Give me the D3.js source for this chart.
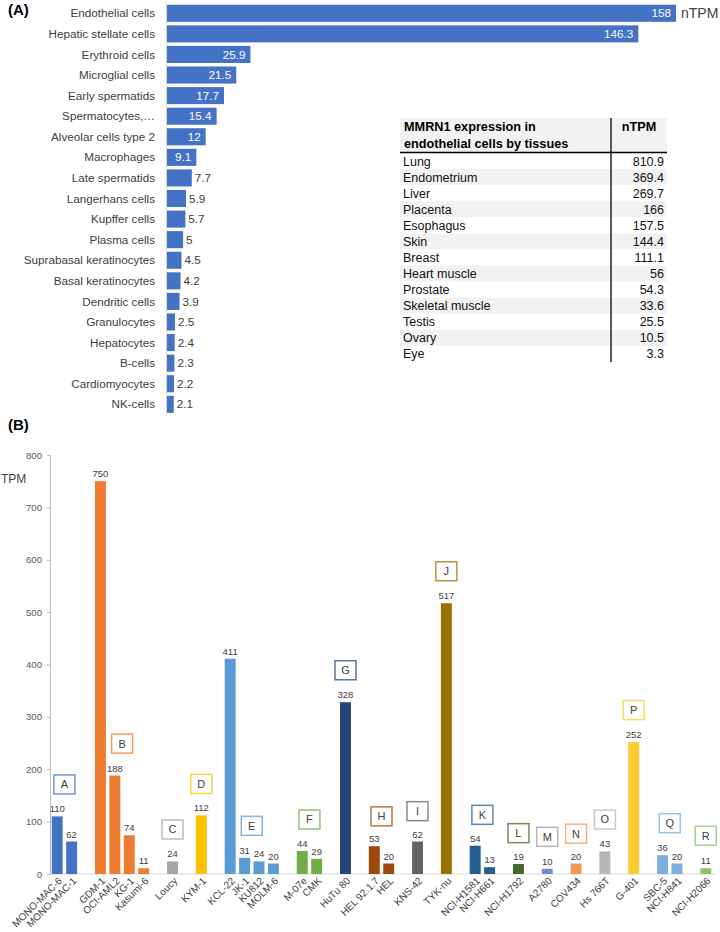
<!DOCTYPE html>
<html>
<head>
<meta charset="utf-8">
<script src="https://cdn.jsdelivr.net/npm/d3@7"></script>
<style>
  html, body { margin: 0; padding: 0; background: #fff; }
  svg { display: block; font-family: "Liberation Sans", Arial, sans-serif; }
</style>
</head>
<body>
<svg id="chart" width="720" height="932"></svg>
<script>
// ---------- Panel A data ----------
const cellTypes = ["Endothelial cells", "Hepatic stellate cells", "Erythroid cells", "Microglial cells",
  "Early spermatids", "Spermatocytes,\u2026", "Alveolar cells type 2", "Macrophages", "Late spermatids",
  "Langerhans cells", "Kupffer cells", "Plasma cells", "Suprabasal keratinocytes", "Basal keratinocytes",
  "Dendritic cells", "Granulocytes", "Hepatocytes", "B-cells", "Cardiomyocytes", "NK-cells"];
const cellTypeNTPM = [158, 146.3, 25.9, 21.5, 17.7, 15.4, 12, 9.1, 7.7, 5.9, 5.7, 5, 4.5, 4.2, 3.9, 2.5, 2.4, 2.3, 2.2, 2.1];

// ---------- Table data ----------
const tableHeader = ["MMRN1 expression in", "endothelial cells by tissues"];
const tableValueHeader = "nTPM";
const tissues = ["Lung", "Endometrium", "Liver", "Placenta", "Esophagus", "Skin", "Breast",
  "Heart muscle", "Prostate", "Skeletal muscle", "Testis", "Ovary", "Eye"];
const tissueNTPM = ["810.9", "369.4", "269.7", "166", "157.5", "144.4", "111.1", "56", "54.3", "33.6", "25.5", "10.5", "3.3"];

// ---------- Panel B data ----------
const cellLines = ["MONO-MAC-6", "MONO-MAC-1", "GDM-1", "OCI-AML2", "KG-1", "Kasumi-6", "Loucy", "KYM-1",
  "KCL-22", "JK-1", "KU812", "MOLM-6", "M-07e", "CMK", "HuTu 80", "HEL 92.1.7", "HEL", "KNS-42", "TYK-nu",
  "NCI-H1581", "NCI-H661", "NCI-H1792", "A2780", "COV434", "Hs 766T", "G-401", "SBC-5", "NCI-H841", "NCI-H2066"];
const cellLineTPM = [110, 62, 750, 188, 74, 11, 24, 112, 411, 31, 24, 20, 44, 29, 328, 53, 20, 62, 517,
  54, 13, 19, 10, 20, 43, 252, 36, 20, 11];
const cellLineGroup = ["A", "A", "B", "B", "B", "B", "C", "D", "E", "E", "E", "E", "F", "F", "G", "H", "H", "I", "J",
  "K", "K", "L", "M", "N", "O", "P", "Q", "Q", "R"];
const groupNames = ["A", "B", "C", "D", "E", "F", "G", "H", "I", "J", "K", "L", "M", "N", "O", "P", "Q", "R"];
// level (TPM) at which each group's letter tag sits
const groupTagTPM = [171, 249, 85, 172, 92, 104, 389, 110, 120, 578, 113, 78, 71, 77, 104, 313, 97, 73];
const yTicks = [0, 100, 200, 300, 400, 500, 600, 700, 800];

// ---------- styles ----------
const groupColor = {
  A: "#4472c4", B: "#ed7d31", C: "#a5a5a5", D: "#ffc000", E: "#5b9bd5", F: "#70ad47",
  G: "#264478", H: "#9e480e", I: "#636363", J: "#997300", K: "#255e91", L: "#43682b",
  M: "#698ed0", N: "#f1975a", O: "#b7b7b7", P: "#ffcd33", Q: "#7cafdd", R: "#8cc168"
};
const tagColor = Object.assign({}, groupColor, { M: "#a0a0a0" });
const textDark = "#404040";

const svg = d3.select("#chart");

// ================= Panel A =================
const gA = svg.append("g");
gA.append("text").attr("x", 8).attr("y", 15).attr("font-size", 15).attr("font-weight", "bold")
  .attr("fill", "#000").text("(A)");

const xA = d3.scaleLinear().domain([0, 158]).range([167, 676]);
const yA = d3.scaleBand().domain(cellTypes).range([3, 414.6]).paddingInner(0.17).paddingOuter(0.085);

gA.append("line").attr("x1", 166.5).attr("x2", 166.5).attr("y1", 2).attr("y2", 416)
  .attr("stroke", "#d9d9d9").attr("stroke-width", 1);

gA.selectAll("rect.a").data(cellTypes).join("rect")
  .attr("x", xA(0)).attr("y", d => yA(d))
  .attr("width", (d, i) => xA(cellTypeNTPM[i]) - xA(0))
  .attr("height", yA.bandwidth()).attr("fill", "#4472c4");

gA.selectAll("text.cat").data(cellTypes).join("text")
  .attr("x", 155).attr("y", d => yA(d) + yA.bandwidth() / 2).attr("dy", "0.35em")
  .attr("text-anchor", "end").attr("font-size", 11.7).attr("fill", textDark).text(d => d);

gA.selectAll("text.val").data(cellTypes).join("text")
  .attr("x", (d, i) => cellTypeNTPM[i] >= 9 ? xA(cellTypeNTPM[i]) - 5 : xA(cellTypeNTPM[i]) + 3)
  .attr("y", d => yA(d) + yA.bandwidth() / 2).attr("dy", "0.35em")
  .attr("text-anchor", (d, i) => cellTypeNTPM[i] >= 9 ? "end" : "start")
  .attr("font-size", 11.7)
  .attr("fill", (d, i) => cellTypeNTPM[i] >= 9 ? "#fff" : textDark)
  .text((d, i) => cellTypeNTPM[i]);

gA.append("text").attr("x", 681).attr("y", yA(cellTypes[0]) + yA.bandwidth() / 2).attr("dy", "0.35em")
  .attr("font-size", 14).attr("fill", textDark).text("nTPM");

// ================= Table =================
const gT = svg.append("g");
const tLeft = 400, tRight = 667, tSep = 611, tTop = 118, tHead = 152.5;
const yT = d3.scaleBand().domain(tissues).range([153, 362]);
gT.append("rect").attr("x", tLeft).attr("y", tTop).attr("width", tRight - tLeft).attr("height", tHead - tTop)
  .attr("fill", "#f2f2f2");
gT.selectAll("rect.row").data(tissues).join("rect")
  .attr("x", tLeft).attr("y", d => yT(d)).attr("width", tRight - tLeft).attr("height", yT.bandwidth())
  .attr("fill", (d, i) => i % 2 === 1 ? "#f2f2f2" : "#ffffff");
gT.selectAll("text.h").data(tableHeader).join("text")
  .attr("x", 404).attr("y", (d, i) => 131 + i * 16.5).attr("font-size", 12.7).attr("font-weight", "bold")
  .attr("fill", "#000").text(d => d);
gT.append("text").attr("x", 639).attr("y", 131).attr("text-anchor", "middle").attr("font-size", 12.7)
  .attr("font-weight", "bold").attr("fill", "#000").text(tableValueHeader);
gT.append("line").attr("x1", tLeft).attr("x2", tRight).attr("y1", tHead).attr("y2", tHead)
  .attr("stroke", "#000").attr("stroke-width", 1.5);
gT.append("line").attr("x1", tSep).attr("x2", tSep).attr("y1", tTop).attr("y2", 362)
  .attr("stroke", "#000").attr("stroke-width", 1.3);
gT.selectAll("text.tn").data(tissues).join("text")
  .attr("x", 403).attr("y", d => yT(d) + yT.bandwidth() / 2).attr("dy", "0.36em")
  .attr("font-size", 12.5).attr("fill", "#111").text(d => d);
gT.selectAll("text.tv").data(tissues).join("text")
  .attr("x", 664).attr("y", d => yT(d) + yT.bandwidth() / 2).attr("dy", "0.36em")
  .attr("text-anchor", "end").attr("font-size", 12.5).attr("fill", "#111").text((d, i) => tissueNTPM[i]);

// ================= Panel B =================
const gB = svg.append("g");
gB.append("text").attr("x", 8).attr("y", 430).attr("font-size", 15).attr("font-weight", "bold")
  .attr("fill", "#000").text("(B)");

// slots: bars with a single empty slot between consecutive groups
const slots = [];
cellLines.forEach((c, i) => {
  if (i > 0 && cellLineGroup[i] !== cellLineGroup[i - 1]) slots.push("gap" + i);
  slots.push(c);
});
const xB = d3.scaleBand().domain(slots).range([50, 713]).paddingInner(0.24).paddingOuter(0.12);
const yB = d3.scaleLinear().domain([0, 800]).range([874, 455]);

// y axis
const yAxis = d3.axisLeft(yB).tickValues(yTicks).tickSize(3).tickPadding(5);
const ya = gB.append("g").attr("transform", "translate(50,0)").call(yAxis);
ya.select(".domain").attr("stroke", "#bfbfbf");
ya.selectAll(".tick line").attr("stroke", "#bfbfbf");
ya.selectAll(".tick text").attr("font-size", 9.6).attr("fill", "#595959")
  .attr("font-family", "Liberation Sans, Arial, sans-serif");

// x baseline
gB.append("line").attr("x1", 50).attr("x2", 716).attr("y1", yB(0)).attr("y2", yB(0))
  .attr("stroke", "#d9d9d9");

gB.append("text").attr("x", 1).attr("y", 483).attr("font-size", 12).attr("fill", textDark).text("TPM");

gB.selectAll("rect.b").data(cellLines).join("rect")
  .attr("x", d => xB(d)).attr("y", (d, i) => yB(cellLineTPM[i]))
  .attr("width", xB.bandwidth()).attr("height", (d, i) => yB(0) - yB(cellLineTPM[i]))
  .attr("fill", (d, i) => groupColor[cellLineGroup[i]]);

gB.selectAll("text.bv").data(cellLines).join("text")
  .attr("x", d => xB(d) + xB.bandwidth() / 2).attr("y", (d, i) => yB(cellLineTPM[i]) - 4)
  .attr("text-anchor", "middle").attr("font-size", 9.5).attr("fill", textDark)
  .text((d, i) => cellLineTPM[i]);

gB.selectAll("text.bx").data(cellLines).join("text")
  .attr("transform", d => `translate(${xB(d) + xB.bandwidth() / 2 + 3},${yB(0) + 5}) rotate(-45)`)
  .attr("text-anchor", "end").attr("dy", "0.35em").attr("font-size", 10).attr("fill", textDark)
  .text(d => d);

// group tags
const tagW = 21, tagH = 19;
groupNames.forEach((g, gi) => {
  const members = cellLines.filter((c, i) => cellLineGroup[i] === g);
  const x0 = xB(members[0]), x1 = xB(members[members.length - 1]) + xB.bandwidth();
  const cx = (x0 + x1) / 2, cy = yB(groupTagTPM[gi]);
  gB.append("rect").attr("x", cx - tagW / 2).attr("y", cy - tagH / 2).attr("width", tagW).attr("height", tagH)
    .attr("fill", "#fff").attr("stroke", tagColor[g]).attr("stroke-width", 1.5).attr("stroke-opacity", 0.75);
  gB.append("text").attr("x", cx).attr("y", cy).attr("dy", "0.36em").attr("text-anchor", "middle")
    .attr("font-size", 11).attr("fill", textDark).text(g);
});
</script>
</body>
</html>
